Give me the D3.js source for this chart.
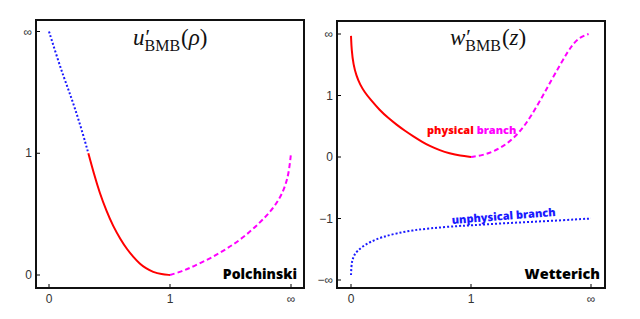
<!DOCTYPE html>
<html>
<head>
<meta charset="utf-8">
<script src="https://cdn.jsdelivr.net/npm/d3@7"></script>
<style>
  body { margin: 0; background: #fff; }
  svg { display: block; }
  .tick-label { font-family: "Liberation Sans", Arial, sans-serif; font-size: 12px; fill: #333; }
  .tag { font-family: "Open Sans", Lato, sans-serif; font-weight: 800; }
  .title { font-family: "Liberation Serif", "DejaVu Serif", serif; fill: #111; }
</style>
</head>
<body>
<div id="chart"></div>
<script>
'use strict';

// axis positions are in "tick units": 2 stands for infinity
var xTicks = [0, 1, 2];
var xTickLabels = ['0', '1', '\u221e'];
var leftYTicks = [0, 1, 2];
var leftYTickLabels = ['0', '1', '\u221e'];
var rightYTicks = [-2, -1, 0, 1, 2];
var rightYTickLabels = ['\u2212\u221e', '\u22121', '0', '1', '\u221e'];

// Polchinski panel, u'(rho)
var polBlue = [[0, 2.0], [0.06, 1.81], [0.12, 1.63], [0.18, 1.47], [0.23, 1.32], [0.28, 1.16], [0.325, 1.0]];
var polRed = [[0.325, 1.0], [0.37, 0.835], [0.42, 0.67], [0.475, 0.525], [0.53, 0.40], [0.59, 0.295], [0.645, 0.21],
  [0.70, 0.145], [0.75, 0.092], [0.80, 0.055], [0.86, 0.024], [0.93, 0.006], [1, 0]];
var polMagenta = [[1, 0], [1.1, 0.03], [1.19, 0.069], [1.33, 0.135], [1.47, 0.215], [1.61, 0.31], [1.74, 0.427],
  [1.83, 0.52], [1.91, 0.63], [1.96, 0.75], [1.985, 0.86], [2, 1.0]];

// Wetterich panel, w'(z)
var wetRed = [[0, 1.97], [0.005, 1.74], [0.02, 1.5], [0.045, 1.32], [0.075, 1.18], [0.115, 1.05], [0.16, 0.94],
  [0.24, 0.76], [0.31, 0.635], [0.38, 0.525], [0.45, 0.425], [0.52, 0.335], [0.59, 0.25], [0.66, 0.175],
  [0.74, 0.11], [0.82, 0.06], [0.91, 0.02], [1, 0]];
var wetMagenta = [[1, 0], [1.1, 0.03], [1.19, 0.09], [1.3, 0.21], [1.41, 0.41], [1.5, 0.66], [1.60, 1.0],
  [1.67, 1.25], [1.74, 1.49], [1.80, 1.69], [1.85, 1.84], [1.91, 1.95], [1.98, 2.0]];
var wetBlue = [[0, -1.92], [0.003, -1.78], [0.01, -1.68], [0.025, -1.6], [0.05, -1.53], [0.1, -1.45],
  [0.16, -1.38], [0.26, -1.30], [0.38, -1.24], [0.52, -1.19], [0.66, -1.16], [0.83, -1.13],
  [1.0, -1.11], [1.25, -1.08], [1.5, -1.055], [1.75, -1.03], [2, -1.0]];

var svg = d3.select('#chart').append('svg')
    .attr('width', 640)
    .attr('height', 319);

var line = function (x, y) {
  return d3.line()
    .x(function (d) { return x(d[0]); })
    .y(function (d) { return y(d[1]); })
    .curve(d3.curveBasis);
};

function panel(opts) {
  var g = svg.append('g');
  var x = d3.scaleLinear().domain([0, 2]).range(opts.xRange);
  var y = d3.scaleLinear().domain(opts.yDomain).range(opts.yRange);
  var f = opts.frame; // x0, y0, x1, y1

  // inward tick marks
  g.selectAll('line.xt').data(xTicks).enter().append('line')
      .attr('x1', function (d) { return x(d); })
      .attr('x2', function (d) { return x(d); })
      .attr('y1', f[3])
      .attr('y2', f[3] - 4)
      .style('stroke', '#000').style('stroke-width', 1);
  g.selectAll('line.yt').data(opts.yTicks).enter().append('line')
      .attr('x1', f[0])
      .attr('x2', f[0] + 4)
      .attr('y1', function (d) { return y(d); })
      .attr('y2', function (d) { return y(d); })
      .style('stroke', '#000').style('stroke-width', 1);

  g.selectAll('text.xl').data(xTicks).enter().append('text')
      .attr('class', 'tick-label')
      .attr('x', function (d) { return x(d); })
      .attr('y', f[3] + 15)
      .style('text-anchor', 'middle')
      .text(function (d, i) { return xTickLabels[i]; });
  g.selectAll('text.yl').data(opts.yTicks).enter().append('text')
      .attr('class', 'tick-label')
      .attr('x', f[0] - 4)
      .attr('y', function (d) { return y(d) + 4; })
      .style('text-anchor', 'end')
      .text(function (d, i) { return opts.yTickLabels[i]; });

  opts.curves.forEach(function (c) {
    g.append('path')
        .datum(c.data)
        .attr('d', line(x, y))
        .style('fill', 'none')
        .style('stroke', c.color)
        .style('stroke-width', 2)
        .style('stroke-dasharray', c.dash || null);
  });

  g.append('rect')
      .attr('x', f[0])
      .attr('y', f[1])
      .attr('width', f[2] - f[0])
      .attr('height', f[3] - f[1])
      .style('fill', 'none')
      .style('stroke', '#111')
      .style('stroke-width', 2);

  return g;
}

var left = panel({
  frame: [36, 20, 304, 288],
  xRange: [49, 291],
  yDomain: [0, 2],
  yRange: [275, 31.5],
  yTicks: leftYTicks,
  yTickLabels: leftYTickLabels,
  curves: [
    { data: polBlue, color: '#1a1aff', dash: '2,2' },
    { data: polRed, color: '#ff0000' },
    { data: polMagenta, color: '#ff00ff', dash: '5,3' }
  ]
});

var right = panel({
  frame: [337, 21, 605, 288],
  xRange: [351, 591],
  yDomain: [-2, 2],
  yRange: [280, 34],
  yTicks: rightYTicks,
  yTickLabels: rightYTickLabels,
  curves: [
    { data: wetRed, color: '#ff0000' },
    { data: wetMagenta, color: '#ff00ff', dash: '5,3' },
    { data: wetBlue, color: '#1a1aff', dash: '2,2' }
  ]
});

// titles: letter, prime over the subscript, then the argument (one text element)
function title(g, x, letter, arg) {
  var t = g.append('text').attr('class', 'title')
      .attr('x', x).attr('y', 45)
      .style('font-size', '23px');
  t.append('tspan').style('font-style', 'italic').text(letter);
  var prime = t.append('tspan').attr('dx', 1).attr('dy', -1).style('font-size', '21px').text('\u2032');
  var pw = prime.node().getComputedTextLength();
  t.append('tspan').attr('dx', -pw - 1).attr('dy', 7).style('font-size', '16px').text('BMB');
  t.append('tspan').attr('dx', 1).attr('dy', -6).text('(');
  t.append('tspan').style('font-style', 'italic').text(arg);
  t.append('tspan').text(')');
}
title(left, 133, 'u', '\u03c1');
title(right, 450, 'w', 'z');

// panel tags
left.append('text').attr('class', 'tag')
    .attr('x', 297).attr('y', 279)
    .style('text-anchor', 'end').style('font-size', '14px')
    .text('Polchinski');
right.append('text').attr('class', 'tag')
    .attr('x', 600).attr('y', 279)
    .style('text-anchor', 'end').style('font-size', '14.5px')
    .text('Wetterich');

var phys = right.append('text').attr('class', 'tag')
    .attr('x', 427).attr('y', 134)
    .style('font-size', '11px');
phys.append('tspan').style('fill', '#ff0000').text('physical ');
phys.append('tspan').style('fill', '#ff00ff').text('branch');

right.append('text').attr('class', 'tag')
    .attr('transform', 'translate(452,224) rotate(-4.5)')
    .style('font-size', '11px')
    .style('fill', '#1a1aff')
    .text('unphysical branch');
</script>
</body>
</html>
